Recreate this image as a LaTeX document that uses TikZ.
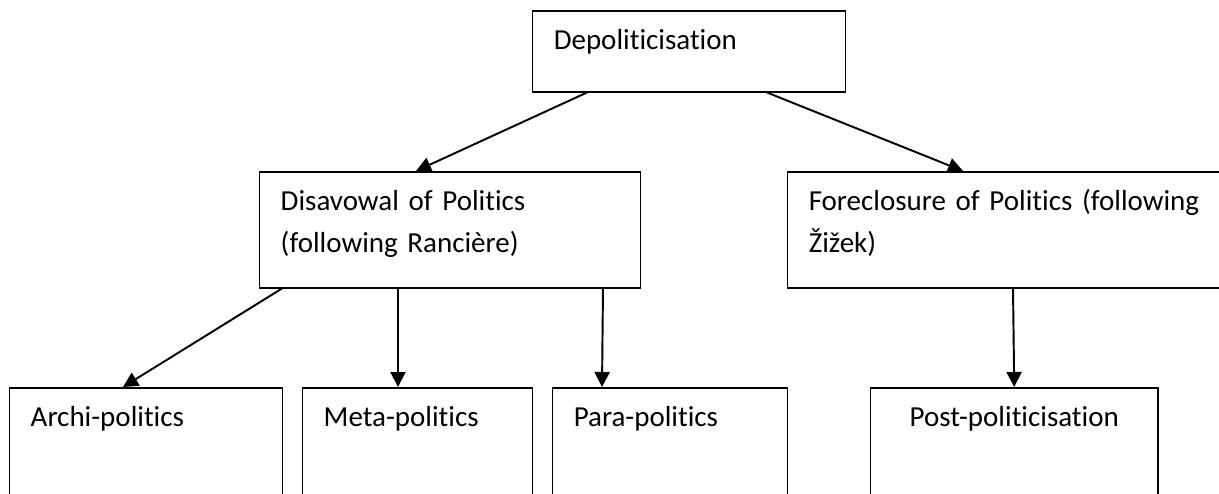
\documentclass[tikz,border=0pt]{standalone}
\usepackage{fontspec}
\setmainfont{Carlito}[Ligatures=NoCommon]
\usetikzlibrary{arrows.meta,calc}

\tikzset{
  box/.style={draw, line width=0.85pt, anchor=north west, inner ysep=0pt, inner xsep=0.42cm,
    align=left, text height=0.78cm, font=\fontsize{16.5}{23.9}\selectfont},
  link/.style={line width=1.1pt, -{Triangle[length=0.3cm,width=0.3cm]}}
}

\begin{document}
\begin{tikzpicture}
            \clip (0,0) rectangle (24.38,-9.86);
            \node[box, text width=5.42cm, text depth=0.84cm] (dep) at (10.64,-0.2) {Depoliticisation};
            \node[box, text width=6.78cm, text depth=1.54cm] (dis) at (5.18,-3.42) {Disavowal of Politics\\(following Rancière)};
            \node[box, text width=8.0cm, text depth=1.54cm] (fore) at (15.74,-3.42) {Foreclosure of Politics (following\\Žižek)};
            \node[box, text width=4.62cm, text depth=1.82cm] (archi) at (0.18,-7.74) {Archi-politics};
            \node[box, text width=3.76cm, text depth=1.82cm] (meta) at (6.04,-7.74) {Meta-politics};
            \node[box, text width=3.86cm, text depth=1.82cm] (para) at (11.04,-7.74) {Para-politics};
            \node[box, text width=4.9cm, text depth=1.82cm, align=center] (post) at (17.4,-7.74) {Post-politicisation};
            \draw[link] ($(dep.south west)+(1.1,0)$) -- ($(dis.north west)+(3.14,0)$);
            \draw[link] ($(dep.south west)+(4.7,0)$) -- ($(fore.north west)+(3.52,0)$);
            \draw[link] ($(dis.south west)+(0.46,0)$) -- ($(archi.north west)+(2.28,0)$);
            \draw[link] ($(dis.south west)+(2.78,0)$) -- ($(meta.north west)+(1.92,0)$);
            \draw[link] ($(dis.south west)+(6.88,0)$) -- ($(para.north west)+(1.0,0)$);
            \draw[link] ($(fore.south west)+(4.52,0)$) -- (post.north);
        \end{tikzpicture}
\end{document}
